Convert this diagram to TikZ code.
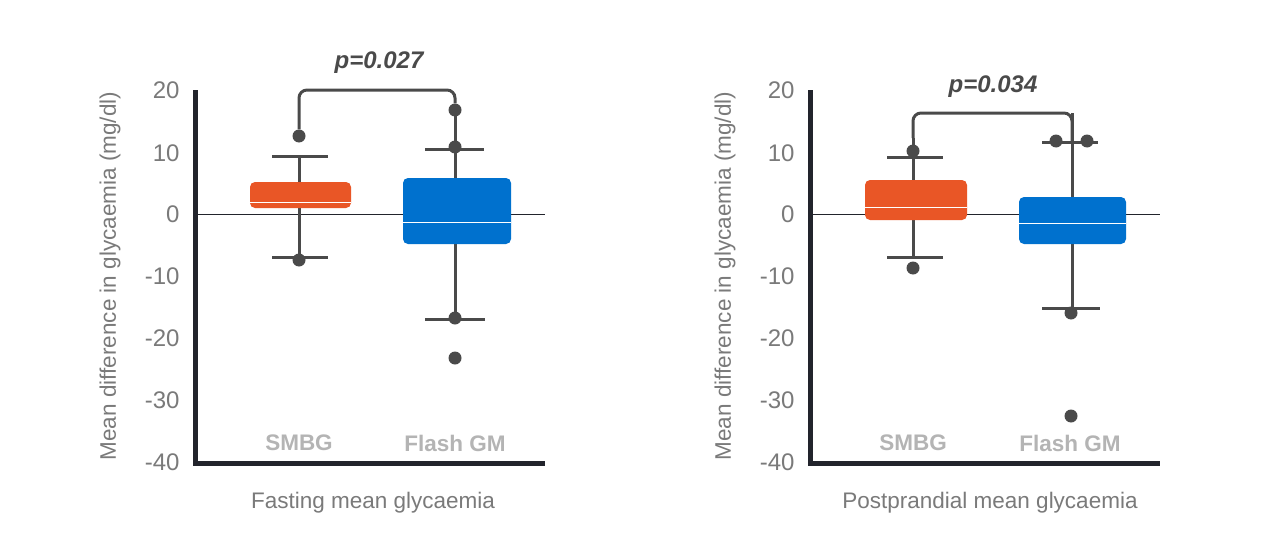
\documentclass[tikz,border=0pt]{standalone}
\usepackage{fontspec}
\setmainfont{Liberation Sans}
\definecolor{smbg}{HTML}{E95626}
\definecolor{flash}{HTML}{0071CE}
\definecolor{whisk}{HTML}{4A4A4A}
\definecolor{axisc}{HTML}{22242C}
\definecolor{labc}{HTML}{7A7A7A}
\definecolor{grpc}{HTML}{B4B4B4}
\tikzset{
  whisker/.style={whisk, line width=3pt},
  box/.style={rounded corners=5pt},
  med/.style={white, line width=1pt},
  dot/.style={circle, fill=whisk, inner sep=0pt, minimum size=13pt},
  tick/.style={labc, anchor=east, font=\fontsize{24}{26}\selectfont},
  axlab/.style={labc, font=\fontsize{22.5}{24}\selectfont},
  grp/.style={grpc, font=\bfseries\fontsize{22.5}{24}\selectfont},
  pval/.style={whisk, font=\bfseries\itshape\fontsize{24}{26}\selectfont}
}
\begin{document}
\begin{tikzpicture}[x=1pt,y=-1pt]
  \useasboundingbox[fill=white] (0,0) rectangle (1280,554);

  % left panel
  \foreach \v/\yy in {20/90,10/153,0/214,-10/276,-20/338,-30/400,-40/462}
    \node[tick] at (183,\yy) {\v};
  \node[axlab, rotate=90] at (110,276) {Mean difference in glycaemia (mg/dl)};
  \draw[axisc, line width=1pt] (195,214) -- (545,214);
  % SMBG
  \draw[whisker] (299,156) -- (299,257);
  \draw[whisker] (272,156) -- (328,156);
  \draw[whisker] (272,257) -- (328,257);
  \fill[smbg, box] (250,182) rectangle (351,208);
  \draw[med] (250,202) -- (351,202);
  \node[dot] (ls1) at (299,136) {};
  \node[dot] (ls2) at (299,260) {};
  % Flash GM
  \draw[whisker] (455,110) -- (455,319);
  \draw[whisker] (425,149) -- (484,149);
  \draw[whisker] (425,319) -- (485,319);
  \fill[flash, box] (403,178) rectangle (511,244);
  \draw[med] (403,222) -- (511,222);
  \node[dot] (lf1) at (455,110) {};
  \node[dot] (lf2) at (455,147) {};
  \node[dot] (lf3) at (455,318) {};
  \node[dot] (lf4) at (455,358) {};
  \draw[whisker, rounded corners=8pt] (ls1.north) -- (299,90) -- (455,90) -- (lf1.north);
  \node[pval] at (379,63) {p=0.027};
  \node[grp] at (299,443) {SMBG};
  \node[grp] at (455,443) {Flash GM};
  \draw[axisc, line width=5pt] (195,90) -- (195,463) -- (545,463);
  \node[axlab] at (373,503) {Fasting mean glycaemia};

  % right panel
  \foreach \v/\yy in {20/90,10/153,0/214,-10/276,-20/338,-30/400,-40/462}
    \node[tick] at (798,\yy) {\v};
  \node[axlab, rotate=90] at (725,276) {Mean difference in glycaemia (mg/dl)};
  \draw[axisc, line width=1pt] (810,214) -- (1160,214);
  % SMBG
  \draw[whisker] (913,138) -- (913,257);
  \draw[whisker] (887,157) -- (943,157);
  \draw[whisker] (887,257) -- (943,257);
  \fill[smbg, box] (865,180) rectangle (967,220);
  \draw[med] (865,207) -- (967,207);
  \node[dot] (rs1) at (913,151) {};
  \node[dot] (rs2) at (913,268) {};
  % Flash GM
  \draw[whisker] (1072,113) -- (1072,308);
  \draw[whisker] (1042,142) -- (1098,142);
  \draw[whisker] (1042,308) -- (1100,308);
  \fill[flash, box] (1019,197) rectangle (1126,244);
  \draw[med] (1019,223) -- (1126,223);
  \node[dot] (rf1) at (1056,141) {};
  \node[dot] (rf2) at (1087,141) {};
  \node[dot] (rf3) at (1071,313) {};
  \node[dot] (rf4) at (1071,416) {};
  \coordinate (rtop) at (1072,142);
  \draw[whisker, rounded corners=8pt] (913,138) -- (913,113) -- (1072,113) -- (rtop);
  \node[pval] at (993,87) {p=0.034};
  \node[grp] at (913,443) {SMBG};
  \node[grp] at (1070,443) {Flash GM};
  \draw[axisc, line width=5pt] (810,90) -- (810,463) -- (1160,463);
  \node[axlab] at (990,503) {Postprandial mean glycaemia};
\end{tikzpicture}
\end{document}
